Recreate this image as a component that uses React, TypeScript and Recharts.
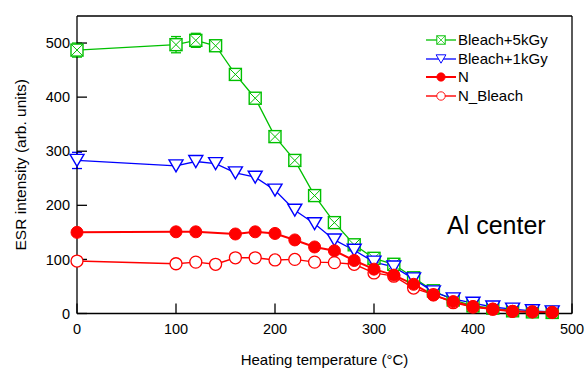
import React from 'react'
import { LineChart, Line, XAxis, YAxis, ReferenceLine, ErrorBar } from 'recharts'

// heating temperature (°C)
const temps = [0, 100, 120, 140, 160, 180, 200, 220, 240, 260, 280, 300, 320, 340, 360, 380, 400, 420, 440, 460, 480]

// ESR intensity (arb. units)
const bleach5k = [487, 497, 505, 495, 442, 398, 327, 283, 218, 168, 127, 102, 91, 66, 42, 25, 14, 10, 5, 3, 2]
const bleach5kErr = [13, 15, 13]
const bleach1k = [283, 273, 281, 277, 260, 252, 228, 191, 166, 136, 117, 95, 86, 64, 40, 27, 19, 12, 8, 5, 3]
const bleach1kErr = [15]
const nNatural = [150, 151, 151, null, 147, 151, 148, 136, 123, 116, 98, 82, 71, 54, 34, 22, 13, 8, 4, 3, 2]
const nBleach = [97, 92, 95, 91, 103, 103, 99, 100, 95, 94, 91, 75, 69, 47, 35, 20, 12, 8, 4, 3, 2]

const xTicks = [0, 100, 200, 300, 400, 500]
const yTicks = [0, 100, 200, 300, 400, 500]

const GREEN = '#00c000'
const BLUE = '#0000ff'
const RED = '#ff0000'
const FONT = '"Liberation Sans", Arial, sans-serif'

const data = temps.map((t, i) => ({
  temp: t,
  b5: bleach5k[i],
  b5err: bleach5kErr[i],
  b1: bleach1k[i],
  b1err: bleach1kErr[i],
  n: nNatural[i],
  nb: nBleach[i],
}))

type Shape = 'squareX' | 'triangle' | 'filled' | 'open'

const Marker = ({ shape, color, cx, cy }: { shape: Shape; color: string; cx: number; cy: number }) => {
  if (shape === 'squareX') {
    const s = 6
    return (
      <g>
        <rect x={cx - s} y={cy - s} width={2 * s} height={2 * s} fill="#fff" stroke={color} strokeWidth={1.4} />
        <line x1={cx - s} y1={cy - s} x2={cx + s} y2={cy + s} stroke={color} strokeWidth={1} />
        <line x1={cx - s} y1={cy + s} x2={cx + s} y2={cy - s} stroke={color} strokeWidth={1} />
      </g>
    )
  }
  if (shape === 'triangle') {
    return (
      <polygon
        points={`${cx - 7},${cy - 6} ${cx + 7},${cy - 6} ${cx},${cy + 6}`}
        fill="#fff"
        stroke={color}
        strokeWidth={1.4}
      />
    )
  }
  if (shape === 'filled') {
    return <circle cx={cx} cy={cy} r={6} fill={color} stroke={color} strokeWidth={1} />
  }
  return <circle cx={cx} cy={cy} r={6} fill="#fff" stroke={color} strokeWidth={1.3} />
}

const makeDot = (shape: Shape, color: string) => (props: any) => {
  const { cx, cy, value, index } = props
  if (cx == null || cy == null || value == null) return <g key={`d-${index}`} />
  return (
    <g key={`d-${index}`}>
      <Marker shape={shape} color={color} cx={cx} cy={cy} />
    </g>
  )
}

const series = [
  { key: 'b5', name: 'Bleach+5kGy', color: GREEN, shape: 'squareX' as Shape, width: 1.3, err: 'b5err' },
  { key: 'b1', name: 'Bleach+1kGy', color: BLUE, shape: 'triangle' as Shape, width: 1.3, err: 'b1err' },
  { key: 'nb', name: 'N_Bleach', color: RED, shape: 'open' as Shape, width: 1.4, err: '' },
  { key: 'n', name: 'N', color: RED, shape: 'filled' as Shape, width: 2, err: '' },
]

const legendOrder = ['b5', 'b1', 'n', 'nb']

export default function App() {
  return (
    <div style={{ position: 'absolute', left: 0, top: 0, width: 585, height: 370, background: '#fff', fontFamily: FONT }}>
      <LineChart width={585} height={370} data={data} margin={{ top: 16, right: 13, left: 0, bottom: 0 }}>
        <XAxis
          dataKey="temp"
          type="number"
          domain={[0, 500]}
          ticks={xTicks}
          height={56.5}
          axisLine={{ stroke: '#000', strokeWidth: 1.3 }}
          tickLine={{ stroke: '#000', strokeWidth: 1.3 }}
          tickSize={-10}
          tickMargin={20}
          tick={{ fontSize: 14.5, fill: '#000', fontFamily: FONT }}
          label={{
            value: 'Heating temperature (°C)',
            position: 'insideBottom',
            offset: 5,
            style: { fontSize: 15, fill: '#000', fontFamily: FONT },
          }}
        />
        <YAxis
          type="number"
          domain={[0, 550]}
          ticks={yTicks}
          width={77}
          axisLine={{ stroke: '#000', strokeWidth: 1.3 }}
          tickLine={{ stroke: '#000', strokeWidth: 1.3 }}
          tickSize={-10}
          tickMargin={17}
          tick={{ fontSize: 14.5, fill: '#000', fontFamily: FONT }}
          label={{
            content: (p: any) => {
              const vb = p.viewBox || { y: 16, height: 298 }
              const cy = vb.y + vb.height / 2
              return (
                <text
                  x={20}
                  y={cy}
                  transform={`rotate(-90 20 ${cy})`}
                  textAnchor="middle"
                  dominantBaseline="central"
                  fontSize={15.5}
                  fontFamily={FONT}
                  fill="#000"
                >
                  ESR intensity (arb. units)
                </text>
              )
            },
          }}
        />
        <ReferenceLine y={550} stroke="#000" strokeWidth={1.3} />
        <ReferenceLine x={500} stroke="#000" strokeWidth={1.3} />
        {series.map((s) => (
          <Line
            key={s.key}
            dataKey={s.key}
            name={s.name}
            stroke={s.color}
            strokeWidth={s.width}
            connectNulls
            isAnimationActive={false}
            dot={makeDot(s.shape, s.color)}
            activeDot={false}
          >
            {s.err ? <ErrorBar dataKey={s.err} width={5} stroke={s.color} strokeWidth={1.3} direction="y" /> : null}
          </Line>
        ))}
      </LineChart>

      <div style={{ position: 'absolute', left: 426, top: 31 }}>
        {legendOrder.map((k) => {
          const s = series.find((x) => x.key === k)!
          return (
            <div key={k} style={{ display: 'flex', alignItems: 'center', height: 18.5 }}>
              <svg width={30} height={16}>
                <line x1={0} y1={8} x2={30} y2={8} stroke={s.color} strokeWidth={s.width} />
                <g transform="translate(15 8) scale(0.7)">
                  <Marker shape={s.shape} color={s.color} cx={0} cy={0} />
                </g>
              </svg>
              <span style={{ fontSize: 15, marginLeft: 2, color: '#000', lineHeight: '16px' }}>{s.name}</span>
            </div>
          )
        })}
      </div>

      <div style={{ position: 'absolute', left: 447, top: 210, fontSize: 25, color: '#000', lineHeight: '30px' }}>
        Al center
      </div>
    </div>
  )
}
